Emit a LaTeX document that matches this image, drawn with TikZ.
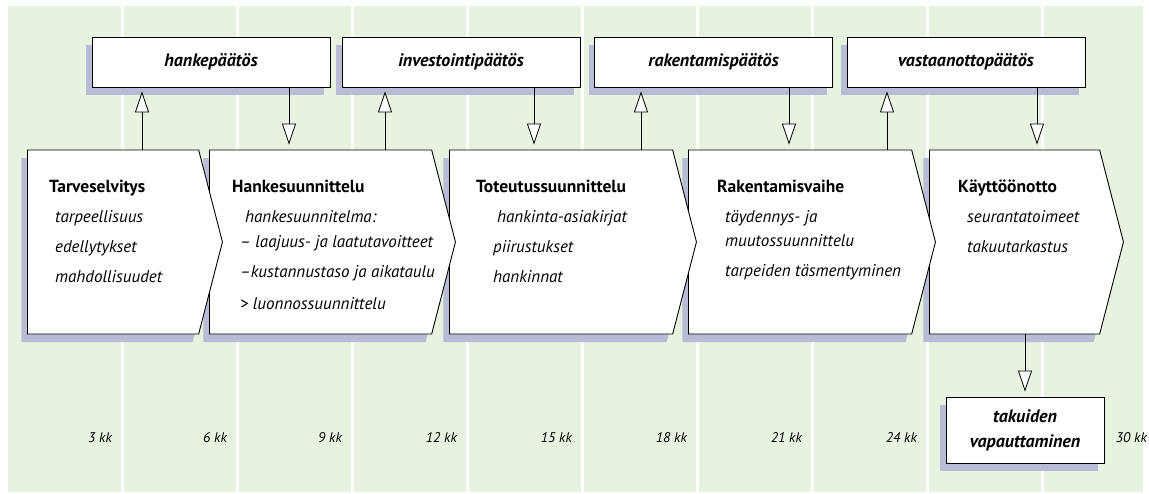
\documentclass[tikz,border=0pt]{standalone}
\usepackage{fontspec}
\setmainfont{PT Sans}
\usetikzlibrary{positioning,calc,shapes.symbols,shadows,arrows.meta}
\definecolor{bggreen}{RGB}{232,242,224}
\definecolor{shadowblue}{RGB}{184,188,212}
\newcommand{\mytitle}[1]{{\fontsize{17.5}{30}\selectfont\textbf{#1}}}
\newcommand{\myitem}[2][0pt]{\hspace*{#1}\textit{#2}}
\tikzstyle{boxshadow} = [drop shadow={shadow xshift=-6pt, shadow yshift=-8pt, fill=shadowblue, opacity=1}]
\tikzstyle{phase} = [draw, fill=white, line width=0.9pt, signal, signal to=east, signal from=nowhere, signal pointer angle=151, minimum height=184pt, inner sep=0pt, anchor=west, boxshadow]
\tikzstyle{decision} = [draw, fill=white, line width=0.9pt, rectangle, minimum height=50pt, minimum width=238pt, font=\fontsize{18}{25}\selectfont\bfseries\itshape, boxshadow]
\tikzstyle{phasetext} = [anchor=north west, align=left, inner sep=0pt, font=\fontsize{17}{30}\selectfont]
\tikzstyle{month} = [anchor=base east, inner sep=0pt, font=\fontsize{14}{16}\selectfont\itshape]
\tikzset{arr/.style={line width=0.8pt, -{Triangle[length=21pt, width=14pt, fill=white, line width=0.8pt]}}}

\begin{document}
\begin{tikzpicture}[x=1pt, y=-1pt]
    \useasboundingbox (0,0) rectangle (1149,493);
    \fill[bggreen] (8,6) rectangle (1143,492);
    \foreach \col in {122,237,...,1042}
        \draw[white, line width=3pt] (\col,6) -- (\col,492);
    \foreach \col/\kk in {122/3,237/6,352/9,467/12,582/15,697/18,812/21,927/24,1157/30}
        \node[month] (kk\kk) at (\col-10,442) {\kk\ kk};

    % paatokset
    \node[decision] (hanke) at (211,62) {hankepäätös};
    \node[decision] (invest) at (461,62) {investointipäätös};
    \node[decision] (rakent) at (713.5,62) {rakentamispäätös};
    \node[decision] (vastaan) at (966,62) {vastaanottopäätös};
    \node[decision, minimum width=158pt, minimum height=66pt, align=center] (takuu) at (1025,430) {takuiden\\vapauttaminen};

    % vaiheet, oikealta vasemmalle
    \node[phase, minimum width=194pt] (kaytto) at (929,242) {};
    \node[phase, minimum width=247pt] (rakvaihe) at (688,242) {};
    \node[phase, minimum width=247pt] (toteutus) at (449,242) {};
    \node[phase, minimum width=246pt] (hankesu) at (209,242) {};
    \node[phase, minimum width=195pt] (tarve) at (27,242) {};

    \draw[arr, shorten >=4pt] (tarve.north -| 142,0) -- (hanke.south -| 142,0);
    \draw[arr, shorten >=5pt] (hanke.south -| 289,0) -- (hankesu.north -| 289,0);
    \draw[arr, shorten >=4pt] (hankesu.north -| 385,0) -- (invest.south -| 385,0);
    \draw[arr, shorten >=5pt] (invest.south -| 534,0) -- (toteutus.north -| 534,0);
    \draw[arr, shorten >=4pt] (toteutus.north -| 641,0) -- (rakent.south -| 641,0);
    \draw[arr, shorten >=5pt] (rakent.south -| 789,0) -- (rakvaihe.north -| 789,0);
    \draw[arr, shorten >=4pt] (rakvaihe.north -| 887,0) -- (vastaan.south -| 887,0);
    \draw[arr, shorten >=5pt] (vastaan.south -| 1037,0) -- (kaytto.north -| 1037,0);
    \draw[arr, shorten >=5pt] (kaytto.south -| takuu.north) -- (takuu.north);

    \node[phasetext] (tarvetxt) at (49,180) {\mytitle{Tarveselvitys}\\
        \myitem[6pt]{tarpeellisuus}\\ \myitem[6pt]{edellytykset}\\ \myitem[6pt]{mahdollisuudet}};
    \node[phasetext] (hankesutxt) at (232,180) {\mytitle{Hankesuunnittelu}\\
        \myitem[13pt]{hankesuunnitelma:}\\[-5pt] \myitem[8pt]{– laajuus- ja laatutavoitteet}\\
        \myitem[8pt]{–kustannustaso ja aikataulu}\\[2pt] \myitem[8pt]{> luonnossuunnittelu}};
    \node[phasetext] (toteutustxt) at (476,180) {\mytitle{Toteutussuunnittelu}\\
        \myitem[21pt]{hankinta-asiakirjat}\\ \myitem[17pt]{piirustukset}\\ \myitem[17pt]{hankinnat}};
    \node[phasetext] (rakvaihetxt) at (717,180) {\mytitle{Rakentamisvaihe}\\
        \myitem[8pt]{täydennys- ja}\\[-6pt] \myitem[8pt]{muutossuunnittelu}\\ \myitem[8pt]{tarpeiden täsmentyminen}};
    \node[phasetext] (kayttotxt) at (958,180) {\mytitle{Käyttöönotto}\\
        \myitem[9pt]{seurantatoimeet}\\ \myitem[9pt]{takuutarkastus}};
\end{tikzpicture}
\end{document}
